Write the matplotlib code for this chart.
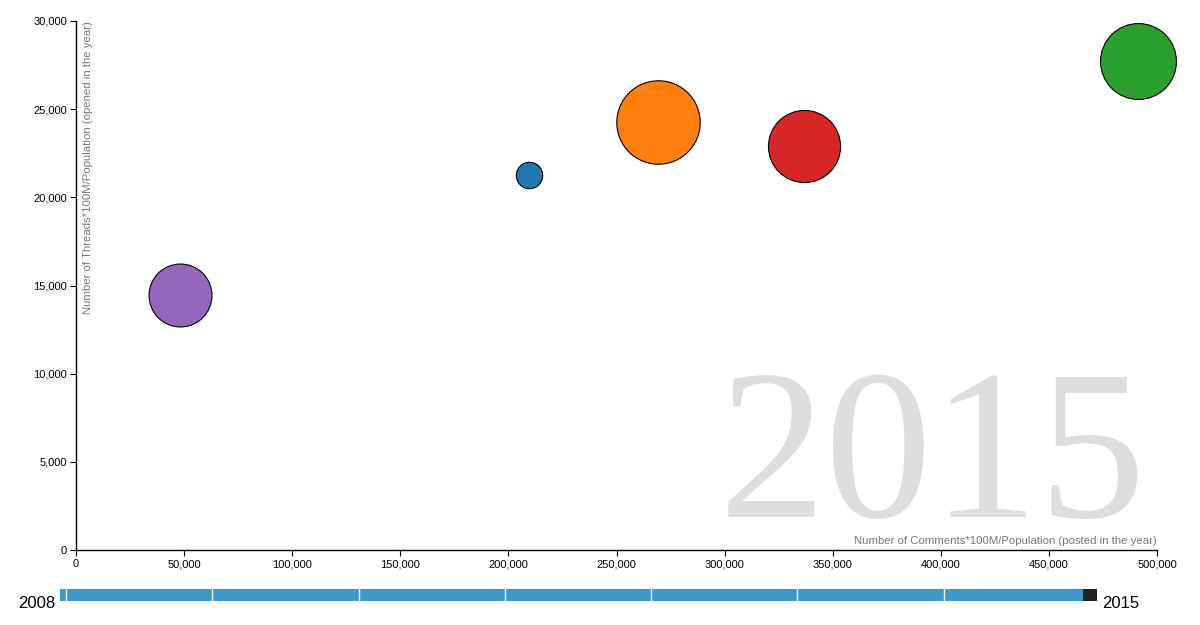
"""
plot.py
Bubble chart: threads vs comments per 100M population, year 2015,
with the year slider drawn underneath.
"""

import numpy as np
import matplotlib.pyplot as plt
from matplotlib.ticker import FuncFormatter
from matplotlib.patches import Rectangle


# ─────────────────────────────────────────────────────────────────────────────
# DATA
# ─────────────────────────────────────────────────────────────────────────────

SERIES   = ["series 1", "series 2", "series 3", "series 4", "series 5"]
COMMENTS = [209300, 269000, 491200, 336700, 47900]     # x
THREADS  = [21270, 24290, 27730, 22910, 14480]         # y
BUBBLE   = [1.74, 17.4, 14.4, 13.0, 9.9]               # size value (sqrt scale)
COLORS   = ["#1f77b4", "#ff7f0e", "#2ca02c", "#d62728", "#9467bd"]

YEARS        = list(range(2008, 2016))
CURRENT_YEAR = 2015

X_TICKS = list(range(0, 500001, 50000))
Y_TICKS = list(range(0, 30001, 5000))

X_LABEL = "Number of Comments*100M/Population (posted in the year)"
Y_LABEL = "Number of Threads*100M/Population (opened in the year)"


# ─────────────────────────────────────────────────────────────────────────────
# FIGURE
# ─────────────────────────────────────────────────────────────────────────────

W, H, DPI = 1200, 625, 100
fig = plt.figure(figsize=(W / DPI, H / DPI), dpi=DPI)
plt.rcParams["font.family"] = ["Liberation Sans", "DejaVu Sans"]

def px_box(x0, y0, x1, y1):
    """pixel box (top-left origin) -> figure fraction rect"""
    return [x0 / W, 1 - y1 / H, (x1 - x0) / W, (y1 - y0) / H]

ax = fig.add_axes(px_box(76, 21, 1157, 550))
ax.set_xlim(0, 500000)
ax.set_ylim(0, 30000)

# big background year
fig.text(1146 / W, 1 - 517 / H, str(CURRENT_YEAR),
         fontsize=154, color="#dddddd", family="Liberation Serif",
         ha="right", va="baseline", zorder=0)
ax.patch.set_alpha(0)

# bubbles, radius in px = 10 * sqrt(value)
radius_pt = 10 * np.sqrt(np.array(BUBBLE)) * 72 / DPI
order = np.argsort(BUBBLE)[::-1]
for i in order:
    ax.scatter(COMMENTS[i], THREADS[i], s=(2 * radius_pt[i]) ** 2,
               color=COLORS[i], edgecolor="black", linewidth=0.8,
               zorder=3, clip_on=False)

# axes styling
fmt = FuncFormatter(lambda v, _: f"{int(v):,}")
ax.set_xticks(X_TICKS)
ax.set_yticks(Y_TICKS)
ax.xaxis.set_major_formatter(fmt)
ax.yaxis.set_major_formatter(fmt)
ax.tick_params(labelsize=8, length=4.5, width=0.8, pad=2, colors="black")
ax.spines[["top", "right"]].set_visible(False)
for s in ("left", "bottom"):
    ax.spines[s].set_linewidth(1)

ax.text(1.0, 0.007, X_LABEL, transform=ax.transAxes, ha="right", va="bottom",
        fontsize=8.2, color="#777777")
ax.text(0.0157, 1.0, Y_LABEL, transform=ax.transAxes, ha="right", va="top",
        rotation=90, fontsize=8.2, color="#777777")


# ─────────────────────────────────────────────────────────────────────────────
# YEAR SLIDER
# ─────────────────────────────────────────────────────────────────────────────

step_px = 146.3
sl = fig.add_axes(px_box(60, 589, 1097, 601))
sl.set_xlim(YEARS[0] - 6 / step_px, YEARS[-1] + 7 / step_px)
sl.set_ylim(0, 1)
sl.axis("off")
sl.add_patch(Rectangle((YEARS[0] - 6 / step_px, 0), 1037 / step_px, 1,
                       color="#3a9bcb", lw=0))
for yr in YEARS[:-1]:
    sl.axvline(yr, color="white", lw=1)
handle_w = 14 / step_px
sl.add_patch(Rectangle((CURRENT_YEAR - handle_w / 2, 0), handle_w, 1,
                       color="#222222", lw=0))

fig.text(55 / W, 1 - 603 / H, str(YEARS[0]), fontsize=12,
         ha="right", va="center")
fig.text(1102 / W, 1 - 603 / H, str(YEARS[-1]), fontsize=12,
         ha="left", va="center")

fig.savefig("out.png", dpi=DPI)
